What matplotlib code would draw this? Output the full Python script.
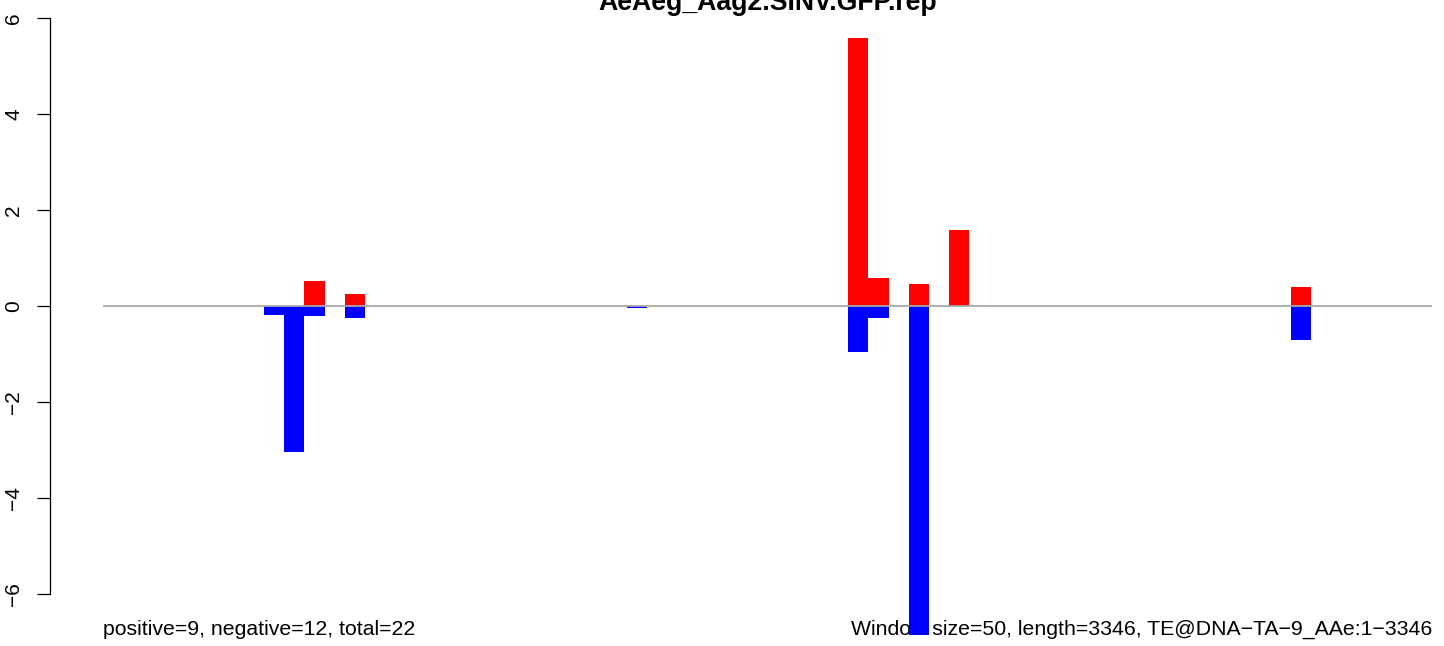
import matplotlib
matplotlib.use("Agg")
import matplotlib.pyplot as plt

# window starts (bp) and signal per strand
pos_start = [500, 600, 1850, 1900, 2000, 2100, 2950]
pos_value = [0.51, 0.24, 5.59, 0.59, 0.45, 1.59, 0.40]
neg_start = [400, 450, 500, 600, 1300, 1850, 1900, 2000, 2950]
neg_value = [-0.19, -3.05, -0.21, -0.25, -0.04, -0.97, -0.25, -6.85, -0.72]

window = 50
seq_len = 3346
yticks = [-6, -4, -2, 0, 2, 4, 6]
title = "AeAeg_Aag2.SINV.GFP.rep"
left_note = "positive=9, negative=12, total=22"
right_note = "Window size=50, length=3346, TE@DNA\u2212TA\u22129_AAe:1\u22123346"

plt.rcParams['font.family'] = ['Liberation Sans', 'DejaVu Sans']

W, H = 1444, 646
fig = plt.figure(figsize=(W / 100, H / 100), dpi=100)
ax = fig.add_axes([50.3 / W, 0, 1 - 50.3 / W, 1])

ax.bar(pos_start, pos_value, width=window, align='edge', color='#FF0000',
       linewidth=0, zorder=2)
ax.bar(neg_start, neg_value, width=window, align='edge', color='#0000FF',
       linewidth=0, zorder=2)
ax.hlines(0, 0, 3300, color='#A9A9A9', linewidth=1.3, zorder=3)

ax.set_xlim(-130.8, 3329)
ax.set_ylim(-7.085, 6.373)

for s in ['top', 'right', 'bottom']:
    ax.spines[s].set_visible(False)
ax.spines['left'].set_bounds(-6, 6)
ax.spines['left'].set_linewidth(0.9)
ax.set_xticks([])
ax.set_yticks(yticks)
ax.set_yticklabels([str(t).replace('-', '\u2212') for t in yticks],
                   rotation=90, va='center', fontsize=15)
ax.tick_params(axis='y', length=9.4, width=0.9, pad=10)

# notes sit under the bars, as in the original
ax.text(0, -6.856, left_note, fontsize=15.3, ha='left', va='baseline', zorder=1)
ax.text(3300, -6.856, right_note, fontsize=15.3, ha='right', va='baseline', zorder=1)
fig.text(768 / W, 1 - 10 / H, title, fontsize=19.2, fontweight='bold',
         ha='center', va='baseline')

fig.savefig("out.png", dpi=100)
